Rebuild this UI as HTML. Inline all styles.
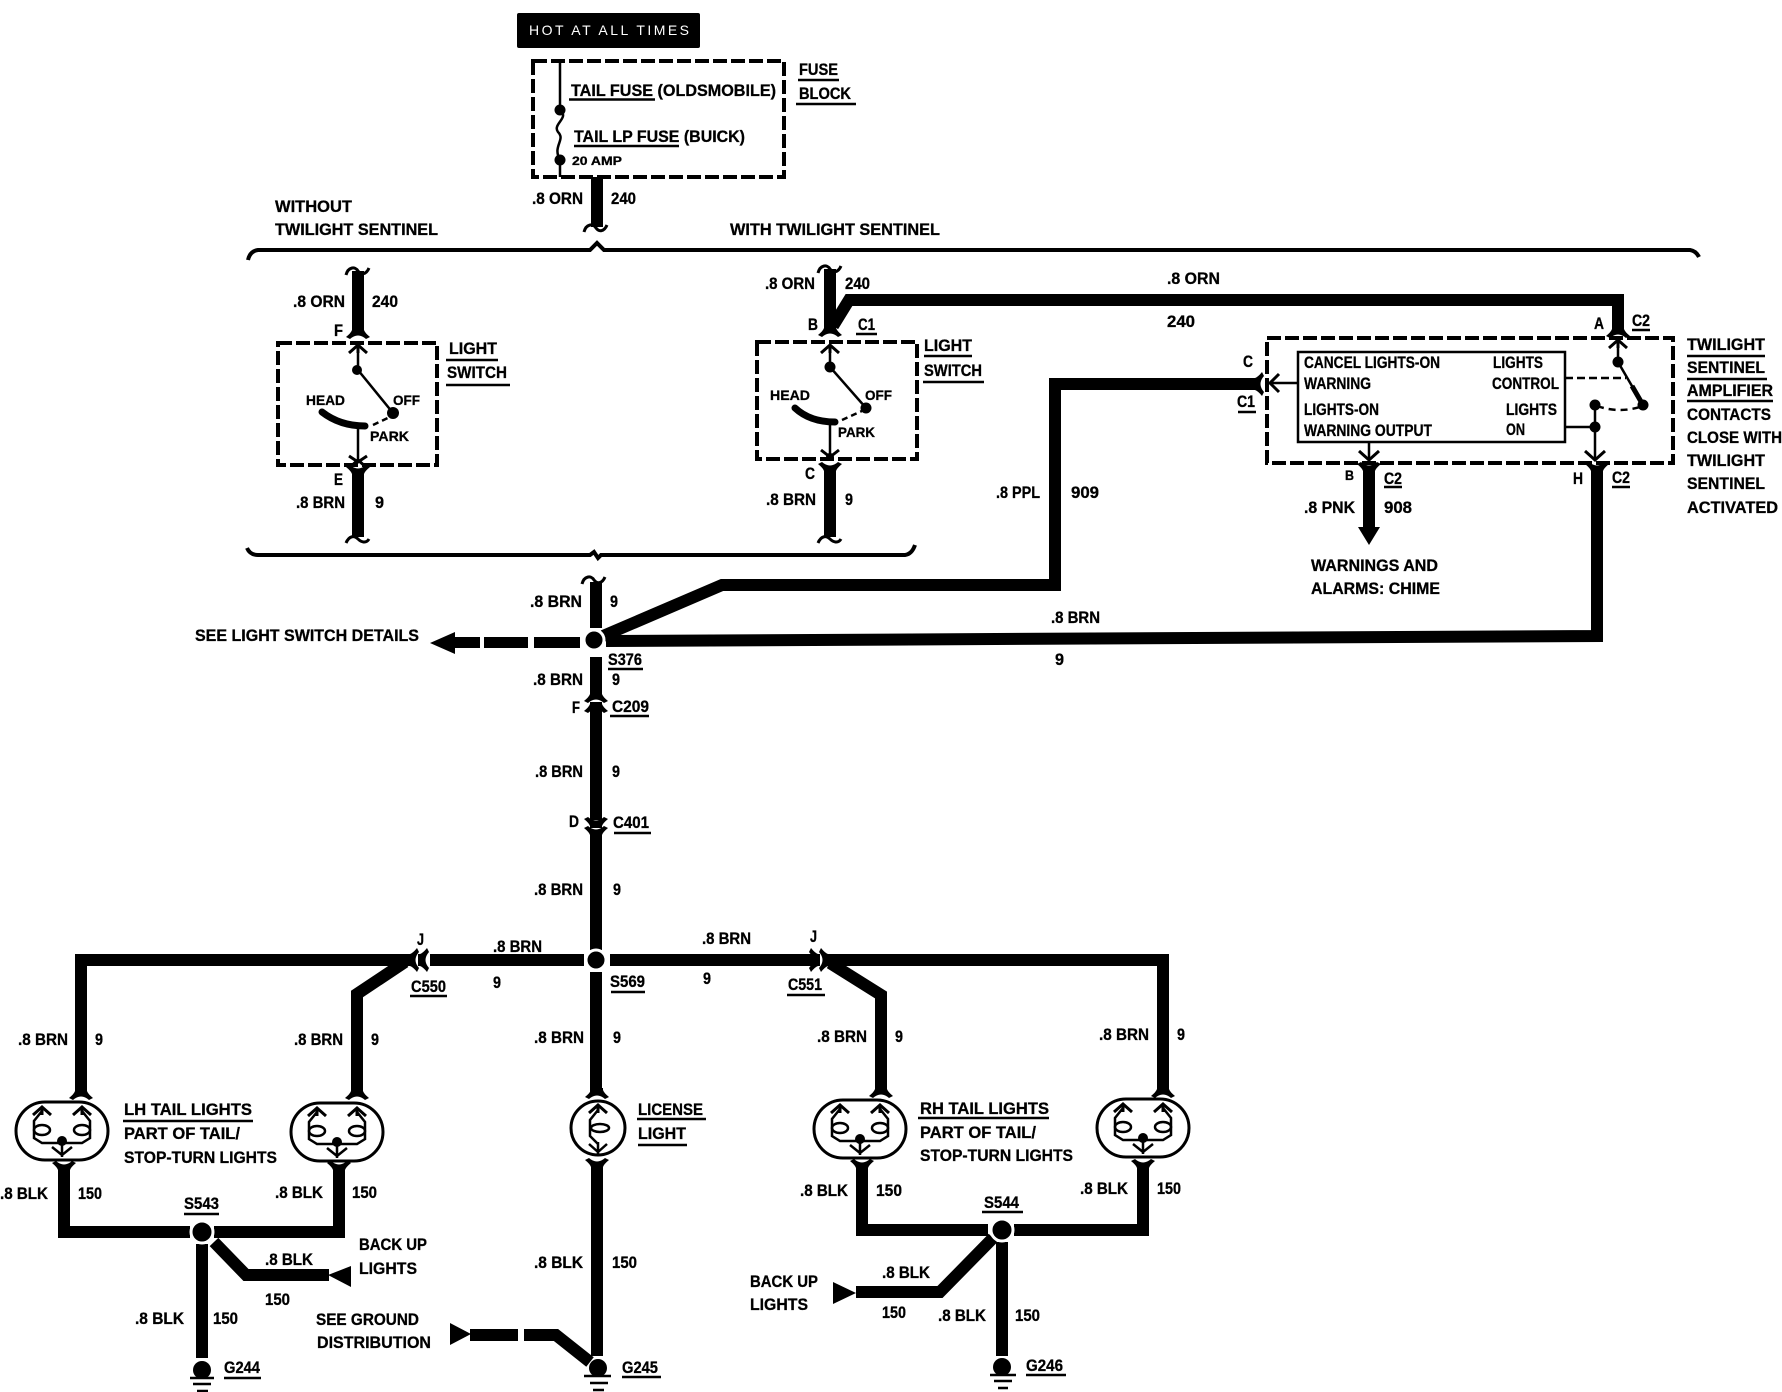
<!DOCTYPE html>
<html><head><meta charset="utf-8"><style>
html,body{margin:0;padding:0;background:#fff}
svg{display:block}
text{font-family:"Liberation Sans",sans-serif;font-weight:bold;font-size:16.5px;fill:#000;stroke:#000;stroke-width:.3px}
.w{fill:none;stroke:#000;stroke-width:12;stroke-linejoin:miter;stroke-miterlimit:10}
.d{fill:none;stroke:#000;stroke-width:4;stroke-dasharray:14 4}
.l{fill:none;stroke:#000;stroke-width:2.5}
.u{stroke:#000;stroke-width:2.5}
.c{fill:none;stroke:#000;stroke-width:3}
.r{fill:#000;stroke:#fff;stroke-width:3}
</style></head><body>
<svg xmlns="http://www.w3.org/2000/svg" width="1782" height="1392" viewBox="0 0 1782 1392">
<defs>
<path id="f" d="M-6-6V-4Q-7-1-12 3L-8 5Q0-2 8 5L12 3Q7-1 6-4V-6Z"/>
<path id="ch" d="M-9 8L0 0L9 8M0 0V8" fill="none" stroke="#000" stroke-width="3"/>
<path id="ct" d="M-12 7C-10-1-3-2 0 3C3 7 8 7 11 0" fill="none" stroke="#000" stroke-width="3"/>
<path id="cb" d="M-12 7C-9 0-4-1 0 3C3 6 8 8 11 3" fill="none" stroke="#000" stroke-width="3"/>
<g id="lamp" fill="none" stroke="#000" stroke-width="2.5">
<rect x="-46" y="-29" width="92" height="58" rx="29" ry="29" stroke-width="3"/>
<use href="#ch" x="-20" y="-24"/><use href="#ch" x="20" y="-24"/>
<ellipse cx="-20" cy="-1" rx="8" ry="5"/><ellipse cx="20" cy="-1" rx="8" ry="5"/>
<path d="M-20-20L-28-10V7L-20 12H20L28 7V-10L20-20"/>
<circle cx="0" cy="10" r="5" fill="#000" stroke="none"/>
<path d="M-10 16L0 24L10 16M0 14V26"/>
</g>
<g id="lic" fill="none" stroke="#000" stroke-width="2.5">
<circle r="27" stroke-width="3"/>
<use href="#ch" x="0" y="-23"/>
<ellipse cx="2" cy="0" rx="9" ry="4"/>
<path d="M0-18L-8-8V8L0 16"/>
<path d="M-9 16L0 24L9 16M0 14V26"/>
</g>
</defs>

<!-- top -->
<rect x="517" y="13" width="183" height="35" rx="2"/>
<text x="529" y="35" textLength="160" lengthAdjust="spacing" style="fill:#fff;stroke:none;font-weight:normal;font-size:14px">HOT AT ALL TIMES</text>
<rect class="d" x="533" y="61" width="251" height="116"/>
<path class="l" d="M560 61V110C570 118 552 124 558 132C566 140 552 146 560 160V177"/>
<circle cx="560" cy="110" r="5.5"/><circle cx="560" cy="160" r="5.5"/>
<text x="571" y="96" textLength="205" lengthAdjust="spacingAndGlyphs">TAIL FUSE (OLDSMOBILE)</text>
<path class="u" d="M569 99.500H655M574 146H679M798 80H839M796 104H856"/>
<text x="574" y="142" textLength="171" lengthAdjust="spacingAndGlyphs">TAIL LP FUSE (BUICK)</text>
<text x="572" y="165" textLength="50" lengthAdjust="spacingAndGlyphs" style="font-size:12px">20 AMP</text>
<text x="799" y="75" textLength="39" lengthAdjust="spacingAndGlyphs">FUSE</text>
<text x="799" y="99" textLength="52" lengthAdjust="spacingAndGlyphs">BLOCK</text>
<text x="532" y="204" textLength="51" lengthAdjust="spacingAndGlyphs">.8 ORN</text>
<text x="611" y="204" textLength="25" lengthAdjust="spacingAndGlyphs">240</text>
<path class="w" d="M597 177V227"/>
<use href="#ct" transform="translate(596 225)"/>
<text x="275" y="212" textLength="77" lengthAdjust="spacingAndGlyphs">WITHOUT</text>
<text x="275" y="235" textLength="163" lengthAdjust="spacingAndGlyphs">TWILIGHT SENTINEL</text>
<text x="730" y="235" textLength="210" lengthAdjust="spacingAndGlyphs">WITH TWILIGHT SENTINEL</text>
<path d="M248 260Q250 251 258 250H590L597 243L604 250H1690Q1696 251 1699 257" fill="none" stroke="#000" stroke-width="4"/>

<!-- left switch -->
<path class="w" d="M358 271V333"/><use href="#ct" x="358" y="268"/><use href="#f" x="358" y="334"/>
<rect class="d" x="278" y="343" width="159" height="122"/>
<use href="#ch" x="358" y="345"/>
<path class="l" d="M358 345V370L393 413"/><circle cx="357" cy="370" r="5"/><circle cx="393" cy="413" r="6"/>
<path d="M373 425L392 416" fill="none" stroke="#000" stroke-width="2.500" stroke-dasharray="6 4"/>
<path d="M322 412Q340 426 365 426" fill="none" stroke="#000" stroke-width="7" stroke-linecap="round"/>
<path class="l" d="M358 428V462"/>
<path d="M349 468L358 460L367 468M349 456L358 462L367 456" fill="none" stroke="#000" stroke-width="3"/>
<use href="#f" transform="translate(358 470) rotate(180)"/><path class="w" d="M358 472V537"/><use href="#cb" x="358" y="536"/>
<text x="293" y="307" textLength="52" lengthAdjust="spacingAndGlyphs">.8 ORN</text>
<text x="372" y="307" textLength="26" lengthAdjust="spacingAndGlyphs">240</text>
<text x="334" y="336" textLength="9" lengthAdjust="spacingAndGlyphs">F</text>
<text x="449" y="354" textLength="48" lengthAdjust="spacingAndGlyphs">LIGHT</text>
<text x="447" y="378" textLength="60" lengthAdjust="spacingAndGlyphs">SWITCH</text>
<path class="u" d="M446 360H498M446 385H510"/>
<text x="306" y="405" textLength="39" lengthAdjust="spacingAndGlyphs" style="font-size:14px">HEAD</text>
<text x="393" y="405" textLength="27" lengthAdjust="spacingAndGlyphs" style="font-size:14px">OFF</text>
<text x="370" y="441" textLength="39" lengthAdjust="spacingAndGlyphs" style="font-size:14px">PARK</text>
<text x="334" y="485" textLength="9" lengthAdjust="spacingAndGlyphs">E</text>
<text x="296" y="508" textLength="49" lengthAdjust="spacingAndGlyphs">.8 BRN</text>
<text x="375" y="508" textLength="9" lengthAdjust="spacingAndGlyphs">9</text>

<!-- brace lower -->
<path d="M247 548Q250 555 258 555H590L594 552L598 558L601 555H905Q912 554 915 545" fill="none" stroke="#000" stroke-width="4"/>

<!-- middle switch -->
<path class="w" d="M830 269V330"/><use href="#ct" x="830" y="266"/><use href="#f" x="830" y="332"/>
<path class="w" d="M1624 300H849L833 326"/>
<path class="w" d="M1618 300V332"/><use href="#f" x="1618" y="333"/>
<rect class="d" x="757" y="342" width="160" height="117"/>
<use href="#ch" x="830" y="345"/>
<path class="l" d="M830 345V367L866 408"/><circle cx="830" cy="367" r="5.500"/><circle cx="866" cy="408" r="5.500"/>
<path d="M842 420L864 410" fill="none" stroke="#000" stroke-width="2.500" stroke-dasharray="6 4"/>
<path d="M795 408Q810 422 835 422" fill="none" stroke="#000" stroke-width="7" stroke-linecap="round"/>
<path class="l" d="M830 424V455"/>
<path d="M821 450L830 457L839 450" fill="none" stroke="#000" stroke-width="3"/><circle cx="830" cy="457" r="4"/>
<use href="#f" transform="translate(830 467) rotate(180)"/><path class="w" d="M830 469V537"/><use href="#cb" x="830" y="536"/>
<text x="765" y="289" textLength="50" lengthAdjust="spacingAndGlyphs">.8 ORN</text>
<text x="845" y="289" textLength="25" lengthAdjust="spacingAndGlyphs">240</text>
<text x="1167" y="284" textLength="53" lengthAdjust="spacingAndGlyphs">.8 ORN</text>
<text x="1167" y="327" textLength="28" lengthAdjust="spacingAndGlyphs">240</text>
<text x="808" y="330" textLength="10" lengthAdjust="spacingAndGlyphs">B</text>
<text x="858" y="330" textLength="17" lengthAdjust="spacingAndGlyphs">C1</text>
<text x="924" y="351" textLength="48" lengthAdjust="spacingAndGlyphs">LIGHT</text>
<text x="924" y="376" textLength="58" lengthAdjust="spacingAndGlyphs">SWITCH</text>
<path class="u" d="M856 334H877M924 356H972M923 382H984"/>
<text x="770" y="400" textLength="40" lengthAdjust="spacingAndGlyphs" style="font-size:14px">HEAD</text>
<text x="865" y="400" textLength="27" lengthAdjust="spacingAndGlyphs" style="font-size:14px">OFF</text>
<text x="838" y="437" textLength="37" lengthAdjust="spacingAndGlyphs" style="font-size:14px">PARK</text>
<text x="805" y="479" textLength="10" lengthAdjust="spacingAndGlyphs">C</text>
<text x="766" y="505" textLength="50" lengthAdjust="spacingAndGlyphs">.8 BRN</text>
<text x="845" y="505" textLength="8" lengthAdjust="spacingAndGlyphs">9</text>

<!-- twilight -->
<rect class="d" x="1267" y="338" width="406" height="125"/>
<rect x="1298" y="352" width="267" height="90" fill="none" stroke="#000" stroke-width="2.500"/>
<g style="font-size:14px">
<text x="1304" y="368" textLength="136" lengthAdjust="spacingAndGlyphs">CANCEL LIGHTS-ON</text>
<text x="1304" y="389" textLength="67" lengthAdjust="spacingAndGlyphs">WARNING</text>
<text x="1493" y="368" textLength="50" lengthAdjust="spacingAndGlyphs">LIGHTS</text>
<text x="1492" y="389" textLength="67" lengthAdjust="spacingAndGlyphs">CONTROL</text>
<text x="1304" y="415" textLength="75" lengthAdjust="spacingAndGlyphs">LIGHTS-ON</text>
<text x="1304" y="436" textLength="128" lengthAdjust="spacingAndGlyphs">WARNING OUTPUT</text>
<text x="1506" y="415" textLength="51" lengthAdjust="spacingAndGlyphs">LIGHTS</text>
<text x="1506" y="435" textLength="19" lengthAdjust="spacingAndGlyphs">ON</text>
</g>
<path d="M1565 378H1626" fill="none" stroke="#000" stroke-width="2.500" stroke-dasharray="8 4"/>
<use href="#ch" x="1618" y="340"/>
<path class="l" d="M1618 340V362L1643 405"/>
<path d="M1632 386L1643 405" stroke="#000" stroke-width="5"/>
<circle cx="1618" cy="362" r="5.500"/><circle cx="1643" cy="405" r="5.500"/><circle cx="1595" cy="405" r="5.500"/><circle cx="1595" cy="427" r="5.500"/>
<path d="M1597 406Q1620 414 1643 406" fill="none" stroke="#000" stroke-width="2.500" stroke-dasharray="7 5"/>
<path class="l" d="M1595 405V458M1565 427H1595"/>
<path d="M1585 451L1595 460L1605 451" fill="none" stroke="#000" stroke-width="3"/>
<path class="l" d="M1369 442V460"/><path d="M1359 451L1369 460L1379 451" fill="none" stroke="#000" stroke-width="3"/>
<path class="l" d="M1298 383H1270"/><path d="M1279 374L1270 383L1279 392" fill="none" stroke="#000" stroke-width="3"/>
<use href="#f" transform="translate(1369 467) rotate(180)"/>
<path class="w" d="M1369 469V530"/><path d="M1358 527H1380L1369 545Z"/>
<use href="#f" transform="translate(1597 467) rotate(180)"/>
<path class="w" d="M606 641L1597 636V470"/>
<use href="#f" transform="translate(1259 384) rotate(-90)"/>
<path class="w" d="M1257 384H1055V585H722L603 636"/>
<text x="1594" y="329" textLength="10" lengthAdjust="spacingAndGlyphs">A</text>
<text x="1632" y="326" textLength="18" lengthAdjust="spacingAndGlyphs">C2</text>
<path class="u" d="M1632 330H1650M1238 412H1256M1384 487H1402M1612 487H1630M1687 356H1765M1687 379H1767M1687 401H1773"/>
<text x="1243" y="367" textLength="10" lengthAdjust="spacingAndGlyphs">C</text>
<text x="1237" y="407" textLength="18" lengthAdjust="spacingAndGlyphs">C1</text>
<text x="1345" y="480" textLength="9" lengthAdjust="spacingAndGlyphs" style="font-size:14px">B</text>
<text x="1384" y="484" textLength="18" lengthAdjust="spacingAndGlyphs">C2</text>
<text x="1573" y="484" textLength="10" lengthAdjust="spacingAndGlyphs">H</text>
<text x="1612" y="483" textLength="18" lengthAdjust="spacingAndGlyphs">C2</text>
<text x="1304" y="513" textLength="51" lengthAdjust="spacingAndGlyphs">.8 PNK</text>
<text x="1384" y="513" textLength="28" lengthAdjust="spacingAndGlyphs">908</text>
<text x="1311" y="571" textLength="127" lengthAdjust="spacingAndGlyphs">WARNINGS AND</text>
<text x="1311" y="594" textLength="129" lengthAdjust="spacingAndGlyphs">ALARMS: CHIME</text>
<text x="1687" y="350" textLength="78" lengthAdjust="spacingAndGlyphs">TWILIGHT</text>
<text x="1687" y="373" textLength="78" lengthAdjust="spacingAndGlyphs">SENTINEL</text>
<text x="1687" y="396" textLength="86" lengthAdjust="spacingAndGlyphs">AMPLIFIER</text>
<text x="1687" y="420" textLength="84" lengthAdjust="spacingAndGlyphs">CONTACTS</text>
<text x="1687" y="443" textLength="95" lengthAdjust="spacingAndGlyphs">CLOSE WITH</text>
<text x="1687" y="466" textLength="78" lengthAdjust="spacingAndGlyphs">TWILIGHT</text>
<text x="1687" y="489" textLength="78" lengthAdjust="spacingAndGlyphs">SENTINEL</text>
<text x="1687" y="513" textLength="91" lengthAdjust="spacingAndGlyphs">ACTIVATED</text>
<text x="996" y="498" textLength="44" lengthAdjust="spacingAndGlyphs">.8 PPL</text>
<text x="1071" y="498" textLength="28" lengthAdjust="spacingAndGlyphs">909</text>
<text x="1051" y="623" textLength="49" lengthAdjust="spacingAndGlyphs">.8 BRN</text>
<text x="1055" y="665" textLength="9" lengthAdjust="spacingAndGlyphs">9</text>

<!-- central trunk -->
<path class="w" d="M596 582V628"/><use href="#ct" x="594" y="577"/>
<circle class="r" cx="594" cy="640" r="10"/>
<path d="M430 643L455 632V637H480V648H455V654Z"/>
<path d="M484 637H528V648H484ZM534 637H580V648H534Z"/>
<text x="195" y="641" textLength="224" lengthAdjust="spacingAndGlyphs">SEE LIGHT SWITCH DETAILS</text>
<path class="w" d="M596 657V696"/><use href="#f" x="596" y="698"/>
<use href="#f" x="596" y="708"/><path class="w" d="M596 709V820"/>
<use href="#f" transform="translate(596 822) rotate(180)"/>
<use href="#f" transform="translate(596 831) rotate(180)"/><path class="w" d="M596 833V950"/>
<path class="w" d="M596 972V1092"/><use href="#f" x="597" y="1094"/>
<path class="w" d="M584 960H430"/>
<path class="w" d="M413 960H81V1094"/><use href="#f" x="81" y="1095"/>
<path class="w" d="M405 962L357 994V1094"/><use href="#f" x="357" y="1095"/>
<use href="#f" transform="translate(414 960) rotate(-90)"/><use href="#f" transform="translate(424 960) rotate(-90)"/>
<circle class="r" cx="596" cy="960" r="10"/>
<path class="w" d="M610 960H813"/><use href="#f" transform="translate(814 960) rotate(90)"/>
<path class="w" d="M826 960H1163V1094"/><use href="#f" x="1163" y="1093"/>
<path class="w" d="M830 963L881 995V1094"/><use href="#f" x="881" y="1093"/>
<use href="#f" transform="translate(824 960) rotate(90)"/>
<text x="530" y="607" textLength="52" lengthAdjust="spacingAndGlyphs">.8 BRN</text>
<text x="610" y="607" textLength="8" lengthAdjust="spacingAndGlyphs">9</text>
<text x="608" y="665" textLength="34" lengthAdjust="spacingAndGlyphs">S376</text>
<text x="533" y="685" textLength="50" lengthAdjust="spacingAndGlyphs">.8 BRN</text>
<text x="612" y="685" textLength="8" lengthAdjust="spacingAndGlyphs">9</text>
<text x="572" y="713" textLength="8" lengthAdjust="spacingAndGlyphs">F</text>
<text x="612" y="712" textLength="37" lengthAdjust="spacingAndGlyphs">C209</text>
<text x="535" y="777" textLength="48" lengthAdjust="spacingAndGlyphs">.8 BRN</text>
<text x="612" y="777" textLength="8" lengthAdjust="spacingAndGlyphs">9</text>
<text x="569" y="827" textLength="10" lengthAdjust="spacingAndGlyphs">D</text>
<text x="613" y="828" textLength="36" lengthAdjust="spacingAndGlyphs">C401</text>
<text x="534" y="895" textLength="49" lengthAdjust="spacingAndGlyphs">.8 BRN</text>
<text x="613" y="895" textLength="8" lengthAdjust="spacingAndGlyphs">9</text>
<path class="u" d="M608 669H643M610 716H649M614 833H651M410 996H447M611 992H645M787 995H825"/>
<text x="417" y="945" textLength="7" lengthAdjust="spacingAndGlyphs">J</text>
<text x="411" y="992" textLength="35" lengthAdjust="spacingAndGlyphs">C550</text>
<text x="493" y="952" textLength="49" lengthAdjust="spacingAndGlyphs">.8 BRN</text>
<text x="493" y="988" textLength="8" lengthAdjust="spacingAndGlyphs">9</text>
<text x="702" y="944" textLength="49" lengthAdjust="spacingAndGlyphs">.8 BRN</text>
<text x="703" y="984" textLength="8" lengthAdjust="spacingAndGlyphs">9</text>
<text x="810" y="942" textLength="7" lengthAdjust="spacingAndGlyphs">J</text>
<text x="788" y="990" textLength="34" lengthAdjust="spacingAndGlyphs">C551</text>
<text x="610" y="987" textLength="35" lengthAdjust="spacingAndGlyphs">S569</text>
<text x="18" y="1045" textLength="50" lengthAdjust="spacingAndGlyphs">.8 BRN</text>
<text x="95" y="1045" textLength="8" lengthAdjust="spacingAndGlyphs">9</text>
<text x="294" y="1045" textLength="49" lengthAdjust="spacingAndGlyphs">.8 BRN</text>
<text x="371" y="1045" textLength="8" lengthAdjust="spacingAndGlyphs">9</text>
<text x="534" y="1043" textLength="50" lengthAdjust="spacingAndGlyphs">.8 BRN</text>
<text x="613" y="1043" textLength="8" lengthAdjust="spacingAndGlyphs">9</text>
<text x="817" y="1042" textLength="50" lengthAdjust="spacingAndGlyphs">.8 BRN</text>
<text x="895" y="1042" textLength="8" lengthAdjust="spacingAndGlyphs">9</text>
<text x="1099" y="1040" textLength="50" lengthAdjust="spacingAndGlyphs">.8 BRN</text>
<text x="1177" y="1040" textLength="8" lengthAdjust="spacingAndGlyphs">9</text>

<!-- lamps -->
<use href="#lamp" x="62" y="1131"/><use href="#lamp" x="337" y="1132"/>
<use href="#lic" x="598" y="1128"/>
<use href="#lamp" x="860" y="1129"/><use href="#lamp" x="1143" y="1128"/>
<use href="#f" transform="translate(64 1166) rotate(180)"/>
<use href="#f" transform="translate(339 1166) rotate(180)"/>
<use href="#f" transform="translate(597 1163) rotate(180)"/>
<use href="#f" transform="translate(862 1164) rotate(180)"/>
<use href="#f" transform="translate(1143 1164) rotate(180)"/>
<text x="124" y="1115" textLength="128" lengthAdjust="spacingAndGlyphs">LH TAIL LIGHTS</text>
<text x="124" y="1139" textLength="116" lengthAdjust="spacingAndGlyphs">PART OF TAIL/</text>
<text x="124" y="1163" textLength="153" lengthAdjust="spacingAndGlyphs">STOP-TURN LIGHTS</text>
<text x="638" y="1115" textLength="65" lengthAdjust="spacingAndGlyphs">LICENSE</text>
<text x="638" y="1139" textLength="48" lengthAdjust="spacingAndGlyphs">LIGHT</text>
<text x="920" y="1114" textLength="129" lengthAdjust="spacingAndGlyphs">RH TAIL LIGHTS</text>
<text x="920" y="1138" textLength="116" lengthAdjust="spacingAndGlyphs">PART OF TAIL/</text>
<text x="920" y="1161" textLength="153" lengthAdjust="spacingAndGlyphs">STOP-TURN LIGHTS</text>
<path class="u" d="M123 1121H253M637 1119H706M638 1145H687M918 1118H1049"/>

<!-- lower left -->
<path class="w" d="M64 1166V1232H190M214 1232H339V1166"/>
<path class="w" d="M202 1244V1358"/>
<path class="w" d="M214 1242L246 1275H329"/><path d="M328 1275L351 1266V1287Z"/>
<circle class="r" cx="202" cy="1232" r="11"/>
<circle cx="202" cy="1370" r="9"/>
<path d="M190 1378H214M193 1384H211M197 1391H208" stroke="#000" stroke-width="2.500"/>
<text x="0" y="1199" textLength="48" lengthAdjust="spacingAndGlyphs">.8 BLK</text>
<text x="78" y="1199" textLength="24" lengthAdjust="spacingAndGlyphs">150</text>
<text x="275" y="1198" textLength="48" lengthAdjust="spacingAndGlyphs">.8 BLK</text>
<text x="352" y="1198" textLength="25" lengthAdjust="spacingAndGlyphs">150</text>
<text x="184" y="1209" textLength="35" lengthAdjust="spacingAndGlyphs">S543</text>
<path class="u" d="M184 1214H219M224 1378H261M622 1377H661M982 1212H1023M1026 1375H1066"/>
<text x="359" y="1250" textLength="68" lengthAdjust="spacingAndGlyphs">BACK UP</text>
<text x="359" y="1274" textLength="58" lengthAdjust="spacingAndGlyphs">LIGHTS</text>
<text x="265" y="1265" textLength="48" lengthAdjust="spacingAndGlyphs">.8 BLK</text>
<text x="265" y="1305" textLength="25" lengthAdjust="spacingAndGlyphs">150</text>
<text x="135" y="1324" textLength="49" lengthAdjust="spacingAndGlyphs">.8 BLK</text>
<text x="213" y="1324" textLength="25" lengthAdjust="spacingAndGlyphs">150</text>
<text x="224" y="1373" textLength="36" lengthAdjust="spacingAndGlyphs">G244</text>
<text x="316" y="1325" textLength="103" lengthAdjust="spacingAndGlyphs">SEE GROUND</text>
<text x="317" y="1348" textLength="114" lengthAdjust="spacingAndGlyphs">DISTRIBUTION</text>

<!-- center lower -->
<path class="w" d="M597 1165V1356"/>
<path d="M450 1323L471 1334L450 1345Z"/>
<path class="w" d="M470 1335H518M524 1335H556L590 1362"/>
<circle cx="598" cy="1368" r="9"/>
<path d="M584 1376H611M590 1383H608M593 1390H604" stroke="#000" stroke-width="2.500"/>
<text x="534" y="1268" textLength="49" lengthAdjust="spacingAndGlyphs">.8 BLK</text>
<text x="612" y="1268" textLength="25" lengthAdjust="spacingAndGlyphs">150</text>
<text x="622" y="1373" textLength="36" lengthAdjust="spacingAndGlyphs">G245</text>

<!-- lower right -->
<path class="w" d="M862 1165V1230H988M1014 1230H1143V1165"/>
<path class="w" d="M1002 1242V1356"/>
<path class="w" d="M856 1292H940L993 1238"/><path d="M833 1282L856 1293L833 1304Z"/>
<circle class="r" cx="1002" cy="1230" r="11"/>
<circle cx="1002" cy="1367" r="9"/>
<path d="M990 1375H1016M994 1381H1012M998 1388H1008" stroke="#000" stroke-width="2.500"/>
<text x="750" y="1287" textLength="68" lengthAdjust="spacingAndGlyphs">BACK UP</text>
<text x="750" y="1310" textLength="58" lengthAdjust="spacingAndGlyphs">LIGHTS</text>
<text x="800" y="1196" textLength="48" lengthAdjust="spacingAndGlyphs">.8 BLK</text>
<text x="876" y="1196" textLength="26" lengthAdjust="spacingAndGlyphs">150</text>
<text x="984" y="1208" textLength="35" lengthAdjust="spacingAndGlyphs">S544</text>
<text x="1080" y="1194" textLength="48" lengthAdjust="spacingAndGlyphs">.8 BLK</text>
<text x="1157" y="1194" textLength="24" lengthAdjust="spacingAndGlyphs">150</text>
<text x="882" y="1278" textLength="48" lengthAdjust="spacingAndGlyphs">.8 BLK</text>
<text x="882" y="1318" textLength="24" lengthAdjust="spacingAndGlyphs">150</text>
<text x="938" y="1321" textLength="48" lengthAdjust="spacingAndGlyphs">.8 BLK</text>
<text x="1015" y="1321" textLength="25" lengthAdjust="spacingAndGlyphs">150</text>
<text x="1026" y="1371" textLength="37" lengthAdjust="spacingAndGlyphs">G246</text>
</svg>
</body></html>
